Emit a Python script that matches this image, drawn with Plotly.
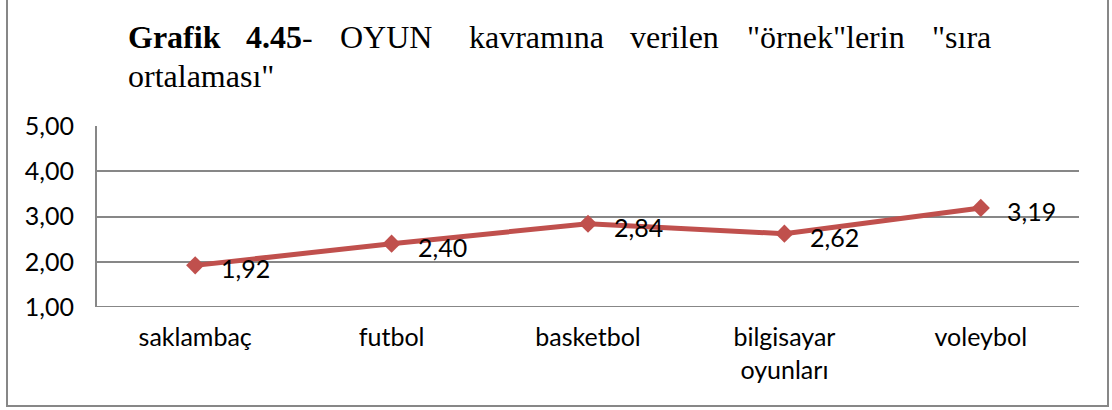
import plotly.graph_objects as go

# Categories and their mean rank values
categories = ["saklambaç", "futbol", "basketbol", "bilgisayar<br>oyunları", "voleybol"]
values = [1.92, 2.40, 2.84, 2.62, 3.19]

y_tick_vals = [1, 2, 3, 4, 5]
y_tick_text = ["1,00", "2,00", "3,00", "4,00", "5,00"]

# Title words (justified line) with their left pixel positions
title_line1 = ["<b>Grafik</b>", "<b>4.45</b>-", "OYUN", "kavramına", "verilen",
               "\"örnek\"lerin", "\"sıra"]
title_line1_x = [126, 244, 338, 467, 628, 745, 930]
title_line2 = "ortalaması\""

W, H = 1112, 410
L, R, T, B = 97, 1079, 126, 307

def px(x):
    return (x - L) / (R - L)

def py(y):
    return (B - y) / (B - T)

line_color = "#C0504D"
grid_color = "#878787"

fig = go.Figure()
fig.add_trace(go.Scatter(
    x=list(range(len(categories))), y=values, mode="lines+markers",
    line=dict(color=line_color, width=5),
    marker=dict(symbol="diamond", size=14, color=line_color),
    hoverinfo="skip", showlegend=False,
))

annotations = []
for i, v in enumerate(values):
    annotations.append(dict(
        x=i, y=v, xref="x", yref="y", text=f"{v:.2f}".replace(".", ","),
        showarrow=False, xanchor="left", yanchor="middle", xshift=24, yshift=-3,
        font=dict(family="Lato", size=25, color="#000000"),
    ))

title_font = dict(family="Liberation Serif", size=32, color="#000000")
for word, x in zip(title_line1, title_line1_x):
    annotations.append(dict(
        x=px(x), y=py(37), xref="paper", yref="paper", text=word,
        showarrow=False, xanchor="left", yanchor="middle", font=title_font,
    ))
annotations.append(dict(
    x=px(126), y=py(76), xref="paper", yref="paper", text=title_line2,
    showarrow=False, xanchor="left", yanchor="middle", font=title_font,
))

fig.update_layout(
    width=W, height=H,
    margin=dict(l=L, r=W - R, t=T, b=H - B),
    paper_bgcolor="white", plot_bgcolor="white",
    xaxis=dict(
        range=[-0.5, len(categories) - 0.5],
        tickvals=list(range(len(categories))), ticktext=categories,
        showgrid=False, zeroline=False, showline=False, ticks="",
        ticklabelstandoff=13,
        tickfont=dict(family="Lato", size=25, color="#000000"),
    ),
    yaxis=dict(
        range=[1, 5], tickvals=y_tick_vals, ticktext=y_tick_text,
        showgrid=True, gridcolor=grid_color, gridwidth=2,
        zeroline=False, showline=True, linecolor=grid_color, linewidth=2,
        ticks="", ticklabelstandoff=16,
        tickfont=dict(family="Lato", size=25, color="#000000"),
    ),
    annotations=annotations,
    shapes=[
        # Bottom gridline at 1,00 and outer chart frame
        dict(type="line", xref="paper", yref="y", x0=0, x1=1, y0=1, y1=1,
             line=dict(color=grid_color, width=2), layer="below"),
        dict(type="rect", xref="paper", yref="paper",
             x0=px(7), x1=px(1108), y0=py(406), y1=py(-10),
             line=dict(color=grid_color, width=2)),
    ],
)

fig.write_html("out.html")
